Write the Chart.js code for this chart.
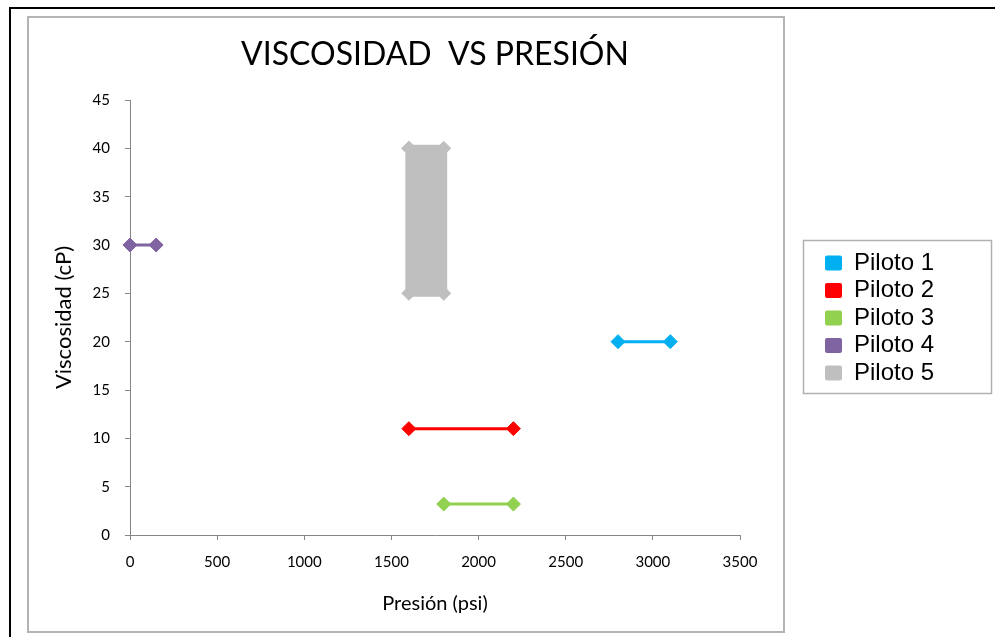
<!DOCTYPE html>
<html>
<head>
<meta charset="utf-8">
<script src="https://cdn.jsdelivr.net/npm/chart.js@4.4.1/dist/chart.umd.min.js"></script>
<style>
    html, body { margin: 0; padding: 0; background: #fff; }
</style>
</head>
<body>
<canvas id="viscChart" width="995" height="637"></canvas>
<script>
// values
const seriesNames = ['Piloto 1', 'Piloto 2', 'Piloto 3', 'Piloto 4', 'Piloto 5'];
const p1Presion = [2800, 3100];
const p1Visc = [20, 20];
const p2Presion = [1600, 2200];
const p2Visc = [11, 11];
const p3Presion = [1800, 2200];
const p3Visc = [3.2, 3.2];
const p4Presion = [0, 150];
const p4Visc = [30, 30];
// closed shape, filled
const p5Presion = [1600, 1800, 1800, 1600, 1600];
const p5Visc = [40, 40, 25, 25, 40];

const xMin = 0, xMax = 3500, xStep = 500;
const yMin = 0, yMax = 45, yStep = 5;

const colors = ['#00B0F0', '#FF0000', '#92D050', '#8064A2', '#BFBFBF'];
const legendPad = 3.5;

function toPoints(xs, ys) {
    return xs.map((x, i) => ({ x: x, y: ys[i] }));
}

function makeSet(i, xs, ys, extra) {
    return Object.assign({
        label: seriesNames[i],
        data: toPoints(xs, ys),
        borderColor: colors[i],
        backgroundColor: colors[i],
        borderWidth: 3,
        pointStyle: 'rectRot',
        pointRadius: 7,
        pointHoverRadius: 7,
        pointBackgroundColor: colors[i],
        pointBorderColor: colors[i],
        pointBorderWidth: 1,
        tension: 0,
        fill: false,
        clip: false
    }, extra || {});
}

const frame = {
    id: 'frame',
    beforeDraw(chart) {
        const c = chart.ctx;
        c.save();
        c.fillStyle = '#fff';
        c.fillRect(0, 0, chart.width, chart.height);
        c.strokeStyle = '#000';
        c.lineWidth = 2;
        c.beginPath();
        c.moveTo(10, 637);
        c.lineTo(10, 8);
        c.lineTo(995, 8);
        c.stroke();
        c.strokeStyle = '#b4b4b4';
        c.lineWidth = 2;
        c.strokeRect(28, 17, 756, 615);
        c.lineWidth = 1.5;
        c.strokeStyle = '#b0b0b0';
        c.strokeRect(803.5, 240.5, 188, 153);
        c.restore();
    }
};

// legend sits in its own box right of the plot, away from the axis
const legendPlace = {
    id: 'legendPlace',
    beforeLayout(chart) {
        const lg = chart.legend;
        if (lg && !lg.widthFixed) {
            const fit = lg.fit;
            lg.fit = function () {
                fit.call(this);
                this.width = 255;
            };
            lg.widthFixed = true;
        }
    },
    afterLayout(chart) {
        const lg = chart.legend;
        lg.left = 825 - legendPad;
        lg.top = 251 - legendPad;
    }
};

const axisGrey = '#868686';

new Chart(document.getElementById('viscChart').getContext('2d'), {
    type: 'line',
    data: {
        datasets: [
            makeSet(0, p1Presion, p1Visc),
            makeSet(1, p2Presion, p2Visc),
            makeSet(2, p3Presion, p3Visc),
            makeSet(3, p4Presion, p4Visc),
            makeSet(4, p5Presion, p5Visc, { borderWidth: 7, fill: 'shape' })
        ]
    },
    options: {
        responsive: false,
        animation: false,
        layout: {
            padding: { left: 40, top: 20, right: 0, bottom: 10 }
        },
        scales: {
            x: {
                type: 'linear',
                min: xMin,
                max: xMax,
                afterFit(scale) { scale.height = 92; },
                grid: {
                    display: true,
                    drawOnChartArea: false,
                    drawTicks: true,
                    tickLength: 5,
                    color: axisGrey
                },
                border: { color: axisGrey },
                ticks: {
                    stepSize: xStep,
                    padding: 13,
                    maxRotation: 0,
                    color: '#000',
                    font: { family: 'Lato', size: 15 },
                    callback: v => String(v)
                },
                title: {
                    display: true,
                    text: 'Presión (psi)',
                    color: '#000',
                    font: { family: 'Lato', size: 20 },
                    padding: { top: 4, bottom: 11 }
                }
            },
            y: {
                min: yMin,
                max: yMax,
                afterFit(scale) { scale.width = 90; },
                grid: {
                    display: true,
                    drawOnChartArea: false,
                    drawTicks: true,
                    tickLength: 5,
                    color: axisGrey
                },
                border: { color: axisGrey },
                ticks: {
                    stepSize: yStep,
                    padding: 15,
                    color: '#000',
                    font: { family: 'Lato', size: 15 }
                },
                title: {
                    display: true,
                    text: 'Viscosidad (cP)',
                    color: '#000',
                    font: { family: 'Lato', size: 22 },
                    padding: { top: 11, bottom: 4 }
                }
            }
        },
        plugins: {
            title: {
                display: true,
                text: 'VISCOSIDAD  VS PRESIÓN',
                fullSize: false,
                color: '#000',
                font: { family: 'Lato', size: 32, weight: 'normal' },
                padding: { top: 15.8, bottom: 25.8 }
            },
            legend: {
                position: 'right',
                align: 'start',
                labels: {
                    boxWidth: 17,
                    boxHeight: 15,
                    padding: legendPad,
                    color: '#000',
                    useBorderRadius: true,
                    borderRadius: 2,
                    font: { family: 'Liberation Sans', size: 24 },
                    generateLabels(chart) {
                        const items = Chart.defaults.plugins.legend.labels.generateLabels(chart);
                        items.forEach(it => {
                            it.lineWidth = 0;
                            it.fillStyle = colors[it.datasetIndex];
                        });
                        return items;
                    }
                }
            },
            tooltip: { enabled: false }
        }
    },
    plugins: [frame, legendPlace]
});
</script>
</body>
</html>
